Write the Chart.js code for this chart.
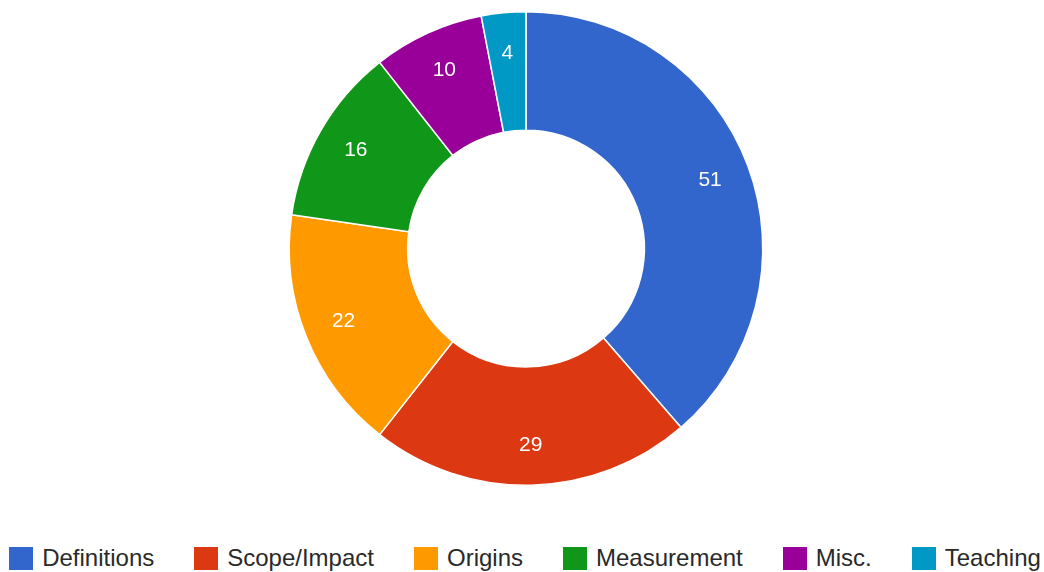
<!DOCTYPE html>
<html>
<head>
<meta charset="utf-8">
<script src="https://cdn.jsdelivr.net/npm/chart.js@4"></script>
<style>
  html, body { margin: 0; padding: 0; background: #fff; }
  #wrap { position: relative; width: 1044px; height: 498px; }
  #legend { display: flex; justify-content: center; align-items: center; margin-top: 46px; margin-left: 6px;
            font-family: "Liberation Sans", Arial, sans-serif; font-size: 24px; color: #2a2a2a; }
  .item { display: flex; align-items: center; margin: 0 20px; white-space: nowrap; }
  .box { width: 24px; height: 23px; margin-right: 9px; }
</style>
</head>
<body>
<div id="wrap"><canvas id="c"></canvas></div>
<div id="legend"></div>
<script>
const categories = ["Definitions", "Scope/Impact", "Origins", "Measurement", "Misc.", "Teaching"];
const values = [51, 29, 22, 16, 10, 4];
const colors = ["#3366cc", "#dc3912", "#ff9900", "#109618", "#990099", "#0099c6"];

const sliceLabels = {
  id: 'sliceLabels',
  afterDatasetsDraw(chart) {
    const ctx = chart.ctx;
    const meta = chart.getDatasetMeta(0);
    ctx.save();
    ctx.fillStyle = '#ffffff';
    ctx.font = '21px "Liberation Sans", Arial, sans-serif';
    ctx.textAlign = 'center';
    ctx.textBaseline = 'middle';
    meta.data.forEach((arc, i) => {
      const p = arc.getProps(['x', 'y', 'startAngle', 'endAngle', 'innerRadius', 'outerRadius'], true);
      const a = (p.startAngle + p.endAngle) / 2;
      const r = p.innerRadius + (p.outerRadius - p.innerRadius) * 0.66;
      ctx.fillText(String(chart.data.datasets[0].data[i]), p.x + r * Math.cos(a), p.y + r * Math.sin(a));
    });
    ctx.restore();
  }
};

const htmlLegend = {
  id: 'htmlLegend',
  afterUpdate(chart) {
    const el = document.getElementById('legend');
    el.innerHTML = '';
    const items = chart.options.plugins.legend.labels.generateLabels(chart);
    items.forEach(it => {
      const d = document.createElement('div');
      d.className = 'item';
      const b = document.createElement('span');
      b.className = 'box';
      b.style.background = it.fillStyle;
      const t = document.createElement('span');
      t.textContent = it.text;
      d.appendChild(b); d.appendChild(t);
      el.appendChild(d);
    });
  }
};

new Chart(document.getElementById('c'), {
  type: 'doughnut',
  data: {
    labels: categories,
    datasets: [{
      data: values,
      backgroundColor: colors,
      borderColor: '#ffffff',
      borderWidth: 1.5,
      hoverOffset: 0
    }]
  },
  options: {
    responsive: true,
    maintainAspectRatio: false,
    animation: false,
    cutout: '50%',
    layout: { padding: { top: 11, bottom: 12, left: 8, right: 0 } },
    plugins: {
      legend: { display: false },
      tooltip: { enabled: false }
    }
  },
  plugins: [sliceLabels, htmlLegend]
});
</script>
</body>
</html>
